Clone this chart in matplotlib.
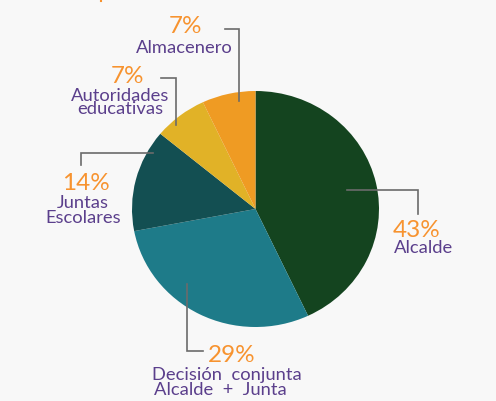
import matplotlib
matplotlib.use("Agg")
import matplotlib.pyplot as plt

plt.rcParams['font.family'] = ['Lato', 'DejaVu Sans']

# data
labels = ["Alcalde", "Decisión  conjunta\nAlcalde  +  Junta", "Juntas\nEscolares",
          "Autoridades\neducativas", "Almacenero"]
shares = [43, 29, 14, 7, 7]
colors = ["#14441f", "#1e7b89", "#134f52", "#e1b227", "#ef9b23"]

bg = "#f8f8f8"
pct_color = "#f7932f"
lab_color = "#5b3f8c"
line_color = "#6b6b6b"

W, H = 496, 402
fig = plt.figure(figsize=(W / 100, H / 100), dpi=100, facecolor=bg)

# pie, slightly wider than tall as in the reference
cx, cy, rx, ry = 255.5, 210, 123.5, 118
pie_ax = fig.add_axes([(cx - rx) / W, 1 - (cy + ry) / H, 2 * rx / W, 2 * ry / H])
pie_ax.pie(shares, colors=colors, startangle=90, counterclock=False,
           wedgeprops=dict(linewidth=0))
pie_ax.set_aspect('auto')
pie_ax.set_xlim(-1, 1)
pie_ax.set_ylim(-1, 1)
pie_ax.axis('off')

# overlay in pixel coords (y down)
ov = fig.add_axes([0, 0, 1, 1])
ov.set_xlim(0, W)
ov.set_ylim(H, 0)
ov.axis('off')
ov.patch.set_alpha(0)

leaders = [
    [(347, 191), (418, 191), (418, 215)],
    [(187, 285), (187, 352), (203, 352)],
    [(153, 154), (81, 154), (81, 166)],
    [(176, 126), (176, 79), (161, 79)],
    [(239, 102), (239, 30), (225, 30)],
]
for pts in leaders:
    xs, ys = zip(*pts)
    ov.plot(xs, ys, color=line_color, lw=1.2, solid_joinstyle='miter')

pfs, lfs = 17.5, 13.2

def pct(x, y, v, ha):
    ov.text(x, y, f"{v}%", color=pct_color, fontsize=pfs, ha=ha, va='baseline')

def lab(x, y, s, ha, va='baseline'):
    ov.text(x, y, s, color=lab_color, fontsize=lfs, ha=ha, va=va,
            multialignment=ha, linespacing=0.78)

# Alcalde
pct(393, 237, shares[0], 'left')
lab(394, 253, labels[0], 'left')
# Decision conjunta
pct(208, 362, shares[1], 'left')
dec1, dec2 = labels[1].split("\n")
lab(152, 380, dec1, 'left')
lab(154, 395, dec2, 'left')
# Juntas
pct(86, 190, shares[2], 'center')
jun1, jun2 = labels[2].split("\n")
lab(83, 208, jun1, 'center')
lab(83.5, 223, jun2, 'center')
# Autoridades
pct(128, 83, shares[3], 'center')
lab(120, 88, labels[3], 'center', va='top')
# Almacenero
pct(186, 33, shares[4], 'center')
lab(233, 53, labels[4], 'right')

# cut-off title remnant at the top
ov.plot([101, 101], [0, 2], color=pct_color, lw=1.5)

fig.savefig("out.png", dpi=100, facecolor=bg)
